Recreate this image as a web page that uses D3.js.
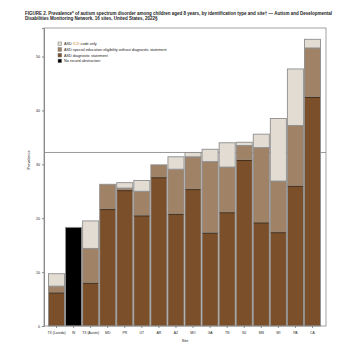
<!DOCTYPE html>
<html>
<head>
<meta charset="utf-8">
<script src="https://cdn.jsdelivr.net/npm/d3@7"></script>
<style>
  body { margin: 0; background: #fff; }
  text { font-family: "Liberation Sans", Arial, sans-serif; fill: #222; }
</style>
</head>
<body>
<div id="chart"></div>
<script>
// sites, left to right
var sites = ["TX (Laredo)", "IN", "TX (Austin)", "MD", "PR", "UT", "AR", "AZ",
             "MO", "GA", "TN", "NJ", "MN", "WI", "PA", "CA"];

// prevalence per 1,000 by identification type
var diagnostic = [6.2, 0, 8.0, 21.7, 25.2, 20.5, 27.6, 20.8, 25.4, 17.3, 21.1, 30.8, 19.2, 17.4, 26.0, 42.5];
var specialEd  = [1.2, 0, 6.4, 4.6, 0.4, 4.5, 2.3, 8.3, 6.0, 13.2, 8.4, 2.7, 13.9, 9.5, 11.2, 9.1];
var icdOnly    = [2.3, 0, 5.1, 0, 1.0, 2.0, 0, 2.3, 0.8, 2.3, 4.5, 0.6, 2.5, 11.6, 10.5, 1.6];
var noRecord   = [0, 18.3, 0, 0, 0, 0, 0, 0, 0, 0, 0, 0, 0, 0, 0, 0];

var overall = 32.2;
var yTicks = [0, 10, 20, 30, 40, 50];

var legendItems = [
    {key: "icd", label: "ASD ICD code only"},
    {key: "sped", label: "ASD special education eligibility without diagnostic statement"},
    {key: "dx", label: "ASD diagnostic statement"},
    {key: "none", label: "No record abstraction"}
];

var colors = {dx: "#7a4f2a", sped: "#a08266", icd: "#e3dcd2", none: "#000"};

var width = 362, height = 353;
var plot = {left: 44, right: 326, top: 28, bottom: 326};

var svg = d3.select("#chart").append("svg")
    .attr("width", width)
    .attr("height", height);

// build rows for the stack
var rows = sites.map(function(s, i) {
    return {site: s, none: noRecord[i], dx: diagnostic[i], sped: specialEd[i], icd: icdOnly[i]};
});
var series = d3.stack().keys(["none", "dx", "sped", "icd"])(rows);

var x = d3.scaleBand()
    .domain(sites)
    .range([48, 321])
    .paddingInner(0.06)
    .paddingOuter(0.03);

var y = d3.scaleLinear()
    .domain([0, 55.3])
    .range([plot.bottom, plot.top]);

// title
var title = svg.append("text")
    .attr("x", 25)
    .attr("y", 14.5)
    .style("font-size", "4.5px")
    .style("font-weight", "bold");
title.append("tspan").text("FIGURE 2. Prevalence* of autism spectrum disorder among children aged 8 years, by identification type and site\u2020 \u2014 Autism and Developmental");
title.append("tspan").attr("x", 25).attr("dy", 5)
    .text("Disabilities Monitoring Network, 16 sites, United States, 2022\u00a7");

// overall prevalence line (behind the bars)
svg.append("line")
    .attr("x1", plot.left).attr("x2", plot.right)
    .attr("y1", y(overall)).attr("y2", y(overall))
    .attr("stroke", "#9a9a9a")
    .attr("stroke-width", 1);

// bars
svg.append("g").selectAll("g")
    .data(series)
    .join("g")
    .attr("fill", d => colors[d.key])
    .selectAll("rect")
    .data(d => d.filter(s => s[1] - s[0] > 0))
    .join("rect")
    .attr("x", d => x(d.data.site))
    .attr("y", d => y(d[1]))
    .attr("width", x.bandwidth())
    .attr("height", d => y(d[0]) - y(d[1]))
    .attr("stroke", "#8e8e8e")
    .attr("stroke-width", 0.9);

// darker edge on top of the diagnostic segment
svg.append("g").selectAll("line")
    .data(series[1].filter(s => s[1] - s[0] > 0))
    .join("line")
    .attr("x1", d => x(d.data.site) + 0.5)
    .attr("x2", d => x(d.data.site) + x.bandwidth() - 0.5)
    .attr("y1", d => y(d[1]) + 0.5)
    .attr("y2", d => y(d[1]) + 0.5)
    .attr("stroke", "#4a2f17")
    .attr("stroke-width", 1);

// frame
svg.append("rect")
    .attr("x", plot.left).attr("y", plot.top)
    .attr("width", plot.right - plot.left)
    .attr("height", plot.bottom - plot.top)
    .attr("fill", "none")
    .attr("stroke", "#8a8a8a")
    .attr("stroke-width", 0.8);

// y axis
var yAxis = svg.append("g")
    .attr("transform", "translate(" + plot.left + ",0)")
    .call(d3.axisLeft(y).tickValues(yTicks).tickSize(2).tickPadding(2));
yAxis.select(".domain").attr("stroke", "#8a8a8a");
yAxis.selectAll(".tick line").attr("stroke", "#8a8a8a");
yAxis.selectAll("text").style("font-size", "3.6px").style("font-family", "Liberation Sans, Arial, sans-serif").attr("fill", "#222");

// x axis
var xAxis = svg.append("g")
    .attr("transform", "translate(0," + plot.bottom + ")")
    .call(d3.axisBottom(x).tickSize(2).tickPadding(4));
xAxis.select(".domain").remove();
xAxis.selectAll(".tick line").attr("stroke", "#8a8a8a");
xAxis.selectAll("text").style("font-size", "3.4px").style("font-family", "Liberation Sans, Arial, sans-serif").attr("fill", "#222");

// axis titles
svg.append("text")
    .attr("transform", "translate(30,160) rotate(-90)")
    .attr("text-anchor", "middle")
    .style("font-size", "3.8px")
    .text("Prevalence");

svg.append("text")
    .attr("x", 185).attr("y", 342)
    .attr("text-anchor", "middle")
    .style("font-size", "3.8px")
    .text("Site");

// legend
var legend = svg.append("g").attr("transform", "translate(58,42)");
var li = legend.selectAll("g")
    .data(legendItems)
    .join("g")
    .attr("transform", (d, i) => "translate(0," + (i * 5.7) + ")");
li.append("rect")
    .attr("width", 3.6).attr("height", 3.6)
    .attr("fill", d => colors[d.key])
    .attr("stroke", "#777")
    .attr("stroke-width", 0.5);
li.append("text")
    .attr("x", 6).attr("y", 3.2)
    .style("font-size", "3.8px")
    .each(function(d) {
        var t = d3.select(this);
        if (d.key === "icd") {
            t.append("tspan").text("ASD ");
            t.append("tspan").attr("fill", "#c8881e").text("ICD");
            t.append("tspan").text(" code only");
        } else {
            t.text(d.label);
        }
    });
</script>
</body>
</html>
